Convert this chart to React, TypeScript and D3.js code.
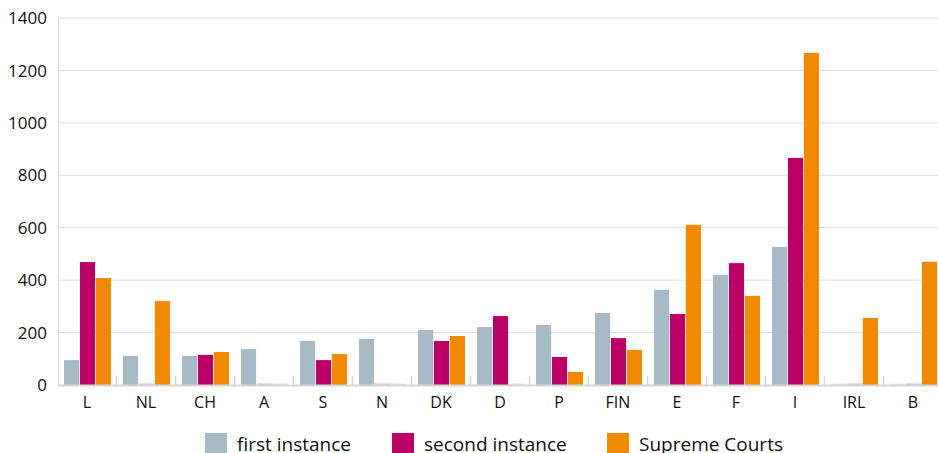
import React from "react";
import * as d3 from "d3";

const categories = ["L", "NL", "CH", "A", "S", "N", "DK", "D", "P", "FIN", "E", "F", "I", "IRL", "B"];
const seriesNames = ["first instance", "second instance", "Supreme Courts"];
const firstInstance = [95, 111, 111, 137, 168, 176, 210, 221, 229, 275, 363, 420, 527, 0, 0];
const secondInstance = [469, 0, 115, 0, 95, 0, 168, 263, 107, 179, 271, 465, 866, 0, 0];
const supremeCourts = [408, 320, 126, 0, 118, 0, 187, 0, 50, 134, 611, 340, 1267, 256, 470];
const yTicks = [0, 200, 400, 600, 800, 1000, 1200, 1400];
const colors = ["#a7bbc7", "#bb0066", "#f18a00"];

const W = 938;
const H = 453;
const FONT = "'Open Sans', sans-serif";

export default function App() {
  const values = [firstInstance, secondInstance, supremeCourts];
  const y = d3.scaleLinear().domain([0, 1400]).range([385, 18]);
  const x0 = d3.scaleBand<string>().domain(categories).range([58, 943]).padding(0);
  const x1 = d3.scaleBand<string>().domain(seriesNames).range([6, 53]).paddingInner(0.05);
  const legendX = [205, 392, 607];

  return (
    <svg width={W} height={H} style={{ position: "absolute", left: 0, top: 0, background: "#fff" }} fontFamily={FONT}>
      {yTicks.filter((t) => t > 0).map((t) => (
        <line key={t} x1={58} x2={W} y1={y(t)} y2={y(t)} stroke="#dedede" strokeWidth={1} />
      ))}
      <line x1={58.5} x2={58.5} y1={y(1400)} y2={y(0)} stroke="#dedede" strokeWidth={1} />
      {yTicks.map((t) => (
        <text key={t} x={47} y={y(t)} dy="0.36em" textAnchor="end" fontSize={17} fill="#111">
          {t}
        </text>
      ))}
      {categories.map((c, i) => (
        <g key={c} transform={`translate(${x0(c)},0)`}>
          {seriesNames.map((s, j) => {
            const v = values[j][i];
            const top = y(v);
            const h = Math.max(y(0) - top, 1.5);
            return (
              <rect
                key={s}
                x={x1(s)}
                y={y(0) - h}
                width={x1.bandwidth()}
                height={h}
                fill={colors[j]}
                opacity={v === 0 ? 0.3 : 1}
              />
            );
          })}
        </g>
      ))}
      <line x1={58} x2={W} y1={y(0) + 0.5} y2={y(0) + 0.5} stroke="#d6d6d6" strokeWidth={2} />
      {categories.slice(1).map((c) => (
        <line key={c} x1={(x0(c) as number) - 0.5} x2={(x0(c) as number) - 0.5} y1={376} y2={385} stroke="#d6d6d6" strokeWidth={1.5} />
      ))}
      {categories.map((c) => (
        <text key={c} x={(x0(c) as number) + x0.bandwidth() / 2 - 0.5} y={408} textAnchor="middle" fontSize={16} fill="#111">
          {c}
        </text>
      ))}
      {seriesNames.map((s, j) => (
        <g key={s} transform={`translate(${legendX[j]},433)`}>
          <rect x={0} y={0} width={22} height={21} fill={colors[j]} />
          <text x={32} y={18} fontSize={19} fill="#111">
            {s}
          </text>
        </g>
      ))}
    </svg>
  );
}
